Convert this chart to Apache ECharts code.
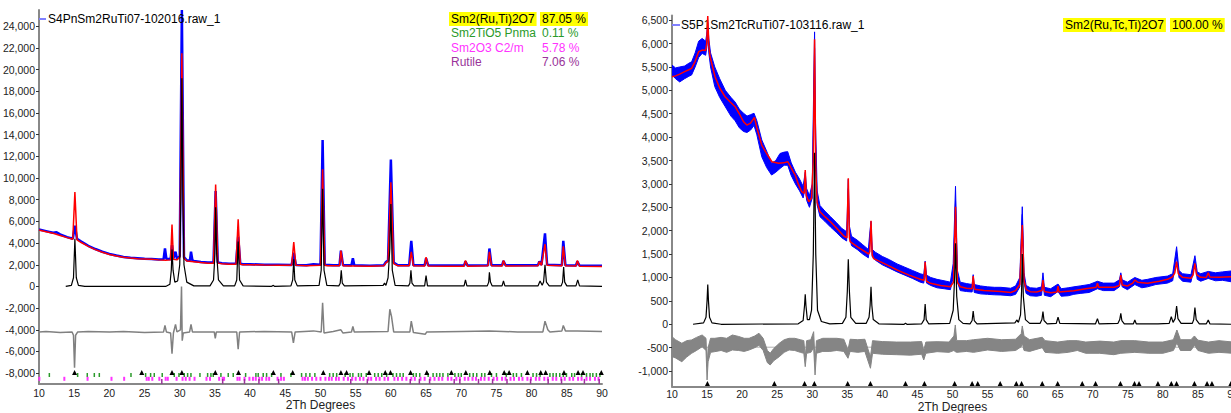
<!DOCTYPE html>
<html>
<head>
<meta charset="utf-8">
<script src="https://cdn.jsdelivr.net/npm/echarts@6/dist/echarts.min.js"></script>
<style>
html,body{margin:0;padding:0;background:#fff;}
#c{width:1231px;height:413px;}
</style>
</head>
<body>
<div id="c"></div>
<script>
// ---------------- DATA ----------------
const leftName = 'S4PnSm2RuTi07-102016.raw_1';
const rightName = 'S5P1Sm2TcRuTi07-103116.raw_1';
const leftPhases = ['Sm2(Ru,Ti)2O7', 'Sm2TiO5 Pnma', 'Sm2O3 C2/m', 'Rutile'];
const leftPercents = ['87.05 %', '0.11 %', '5.78 %', '7.06 %'];
const rightPhases = ['Sm2(Ru,Tc,Ti)2O7'];
const rightPercents = ['100.00 %'];
const leftYTicks = [-8000,-6000,-4000,-2000,0,2000,4000,6000,8000,10000,12000,14000,16000,18000,20000,22000,24000];
const rightYTicks = [-1000,-500,0,500,1000,1500,2000,2500,3000,3500,4000,4500,5000,5500,6000,6500];

// Left panel: observed (blue), calculated (red), phase pattern (black), difference (gray)
const leftObs = [[10,5250],[11,5100],[12,4950],[12.5,5000],[13,4800],[14,4550],[14.8,4400],[15.1,5600],[15.4,4400],[16,4150],[17,3750],[18,3450],[19,3200],[20,3000],[21,2850],[22,2720],[23,2650],[24,2600],[25,2550],[26,2520],[27,2480],[27.7,2500],[27.9,3500],[28.1,2550],[28.7,2500],[28.9,3800],[29.1,2600],[29.4,3200],[29.6,2550],[30.0,2800],[30.3,25500],[30.6,2700],[31.0,2400],[31.45,2400],[31.6,3200],[31.8,2400],[32,2350],[33,2250],[34,2200],[34.8,2200],[35.1,8800],[35.4,2200],[36,2150],[37,2100],[38,2100],[38.3,4600],[38.6,2100],[39,2050],[40,2050],[42,2000],[44,2000],[45.9,1980],[46.2,3100],[46.5,1980],[48,1950],[49,2050],[50,2000],[50.3,13500],[50.6,2000],[51.8,1950],[52.7,1950],[52.9,3300],[53.2,1950],[54.4,1950],[54.6,2600],[54.8,1950],[57,1900],[59,1950],[59.3,2250],[59.6,2400],[60,11700],[60.4,2200],[61,1950],[62.6,1950],[62.9,4200],[63.2,1950],[64.8,1950],[65,2600],[65.3,1950],[68,1920],[70.4,1920],[70.6,2300],[70.9,1920],[73.8,1950],[74,3500],[74.3,1950],[75.8,1950],[76,2350],[76.3,1950],[80.9,1950],[81.1,2300],[81.4,2000],[81.9,4900],[82.2,2000],[84.3,1950],[84.5,4200],[84.8,1950],[86.3,1930],[86.5,2300],[86.8,1930],[90,1900]];
const leftCalc = [[10,5200],[11,5050],[12,4900],[13,4700],[14,4500],[14.8,4350],[15.1,8700],[15.4,4300],[16,4050],[17,3700],[18,3400],[19,3150],[20,2950],[21,2800],[22,2700],[23,2620],[24,2560],[25,2530],[26,2500],[27,2450],[28,2420],[28.7,2450],[28.9,5700],[29.1,2500],[29.6,2450],[30.0,2700],[30.3,21500],[30.6,2600],[31,2350],[32,2280],[33,2200],[34,2150],[34.8,2150],[35.1,9400],[35.4,2150],[36,2100],[37,2050],[38,2050],[38.3,6200],[38.6,2050],[39,2000],[40,2000],[42,1970],[44,1950],[45.9,1950],[46.2,4100],[46.5,1950],[48,1900],[50,1950],[50.3,10800],[50.6,1950],[51,1900],[52.7,1900],[52.9,3300],[53.2,1900],[54,1880],[55,1880],[57,1870],[59,1900],[59.3,2200],[59.6,2300],[60.0,9600],[60.4,2100],[61,1900],[62.6,1900],[62.9,3200],[63.2,1900],[64.8,1880],[65.0,2700],[65.3,1880],[68,1870],[70.4,1870],[70.6,2400],[70.9,1870],[73.8,1900],[74.0,3200],[74.3,1900],[75.8,1880],[76.0,2400],[76.3,1880],[80.9,1900],[81.1,2300],[81.4,1950],[81.9,3900],[82.2,1950],[84.3,1900],[84.5,3700],[84.8,1900],[86.3,1880],[86.5,2400],[86.8,1870],[90,1850]];
const leftPhase = [[13.8,0],[14.6,100],[14.9,800],[15.1,4400],[15.3,800],[15.6,100],[16.5,0],[28.0,0],[28.6,200],[28.8,1500],[28.9,3400],[29.05,1500],[29.3,400],[29.7,500],[30.0,2000],[30.15,8000],[30.3,19200],[30.45,8000],[30.6,2000],[31.0,400],[32,50],[34.3,50],[34.8,600],[35.0,3000],[35.1,7300],[35.25,3000],[35.5,600],[36.2,50],[37.8,50],[38.1,600],[38.3,4150],[38.5,600],[39,50],[43,0],[43.3,100],[43.5,0],[45.8,50],[46.05,600],[46.2,2500],[46.35,600],[46.7,50],[49.8,100],[50.1,1500],[50.3,9000],[50.5,1500],[50.9,100],[52.6,50],[52.8,300],[52.95,1500],[53.1,300],[53.4,50],[58.9,100],[59.1,300],[59.3,100],[59.6,800],[59.85,3500],[60.0,7600],[60.2,1500],[60.6,100],[62.5,50],[62.7,300],[62.85,1500],[63.0,300],[63.3,50],[64.8,50],[65.0,1000],[65.2,50],[70.4,50],[70.6,600],[70.8,50],[73.7,50],[73.9,400],[74.0,1300],[74.15,400],[74.4,50],[75.8,50],[76.0,500],[76.2,50],[80.9,50],[81.2,500],[81.5,100],[81.7,400],[81.9,2000],[82.1,400],[82.5,50],[84.2,50],[84.4,400],[84.55,1800],[84.7,400],[85.0,50],[86.3,50],[86.55,600],[86.8,50],[90,0]];
const leftDiff = [[10,-4200],[11,-4150],[12,-4200],[13,-4250],[14.7,-4200],[14.9,-4500],[15.05,-7500],[15.2,-4500],[15.5,-4200],[17,-4150],[20,-4200],[22,-4150],[25,-4250],[27.7,-4200],[27.9,-3600],[28.1,-4200],[28.7,-4300],[28.9,-6200],[29.1,-4300],[29.4,-3500],[29.6,-4200],[30.1,-4000],[30.25,0],[30.35,-5000],[30.5,-4300],[31.4,-4200],[31.6,-3500],[31.8,-4200],[34.9,-4200],[35.05,-4800],[35.2,-4200],[38.1,-4200],[38.3,-5800],[38.5,-4200],[42,-4150],[45.9,-4200],[46.15,-5200],[46.4,-4200],[49,-4100],[50.1,-4200],[50.3,-1500],[50.5,-4300],[51.8,-4150],[52.9,-4000],[53.2,-4300],[54.4,-4200],[54.6,-3700],[54.8,-4200],[59.6,-4150],[59.85,-2100],[60.1,-2800],[60.4,-4200],[62.7,-4200],[62.9,-3200],[63.2,-4250],[64.9,-4400],[65.1,-4200],[70,-4150],[74,-4100],[78,-4200],[81.6,-4200],[81.9,-3200],[82.3,-4000],[82.6,-4200],[84.3,-4100],[84.5,-3600],[84.8,-4100],[86.5,-4100],[90,-4150]];

// Reflection positions (2Th)
const pyroTicks = [15.05,24.6,28.9,30.3,35.05,38.35,43.3,46.05,50.4,52.9,53.7,56.9,59.2,59.95,62.8,65.1,68.6,70.65,74.05,76.1,76.8,79.4,81.3,82.0,84.6,86.6,87.3,89.9];
const sm2tio5Ticks = [11.47,15.49,16.86,17.86,18.57,23.07,25.15,25.86,26.38,27.51,29.22,29.89,30.64,31.12,31.59,32.87,33.96,34.43,34.76,35.85,36.89,37.6,39.36,40.82,41.15,41.86,42.34,43.05,44.38,45.8,47.31,47.93,48.49,49.2,51.3,51.8,52.3,53.5,54.2,54.6,55.4,55.8,56.5,57.7,58.2,58.7,59.4,60.3,60.8,61.3,61.75,63.2,63.6,64.1,65.3,66.0,66.5,66.95,67.4,68.1,69.1,69.6,70.0,71.2,71.7,72.2,72.9,73.35,74.3,75.0,76.4,77.4,77.85,78.55,80.2,80.7,81.2,82.6,83.05,83.5,84.0,84.5,84.95,85.7,86.1,87.1,87.8,88.3,88.7,89.2,89.7];
const sm2o3Ticks = [10.05,13.6,16.9,20.3,22.1,25.3,25.6,26.1,27.1,28.0,28.3,29.55,30.4,30.85,31.4,32.1,33.8,34.3,35.6,36.1,36.3,38.2,38.5,39.2,39.9,40.4,40.8,41.3,41.7,42.3,42.7,43.9,44.4,44.8,47.45,47.8,48.2,48.8,49.4,50.0,50.7,51.2,51.6,52.2,52.6,53.3,53.9,54.5,55.0,55.6,56.1,56.8,57.2,57.9,58.4,59.1,59.6,60.5,61.0,61.6,62.2,62.9,63.4,64.2,64.8,65.6,66.2,66.8,67.3,68.1,68.6,69.3,69.8,70.5,71.0,71.6,72.1,72.8,73.3,73.9,74.6,75.1,75.8,76.3,77.0,77.5,78.2,78.7,79.4,79.9,80.6,81.1,81.8,82.3,83.0,83.5,84.2,84.7,85.4,85.9,86.6,87.1,87.8,88.3,89.0,89.5];
const rutileTicks = [27.45,36.1,39.2,41.25,44.05,54.3,56.65,62.75,64.05,65.5,69.0,69.8,72.45,74.45,76.5,79.85,82.35,84.25,87.5,89.6];

// Right panel: observed band [2Th, low, high], calculated, phase, difference band [2Th, low, high]
const rightObs = [[10.0,5330,5540],[10.5,5250,5480],[11.1,5180,5500],[11.8,5250,5520],[12.4,5300,5580],[12.8,5330,5610],[13.3,5500,5800],[13.8,5700,6050],[14.3,5790,6110],[14.8,5750,6050],[14.95,5900,6200],[15.1,6150,6450],[15.25,5800,6100],[15.5,5500,5800],[16.1,5080,5500],[16.8,4850,5250],[17.6,4650,5000],[18.4,4450,4850],[19.0,4350,4750],[19.6,4200,4600],[20.2,4120,4510],[20.7,4100,4450],[21.2,4150,4480],[21.7,4250,4510],[22.1,4050,4350],[22.8,3580,3940],[23.5,3350,3700],[24.2,3190,3440],[24.8,3250,3500],[25.4,3330,3650],[26.0,3400,3680],[26.5,3400,3690],[27.0,3180,3450],[27.6,3000,3250],[28.2,2850,3100],[28.7,2700,2950],[28.9,2850,3150],[29.0,2950,3250],[29.2,2650,2900],[29.6,2500,2750],[30.0,2700,3000],[30.2,4500,5000],[30.33,5900,6250],[30.45,4000,4400],[30.7,2550,2850],[31.1,2300,2540],[31.8,2200,2420],[32.6,2080,2300],[33.4,1970,2180],[34.2,1850,2050],[34.9,1780,1980],[35.0,2100,2400],[35.14,2900,3100],[35.3,1900,2100],[35.6,1680,1880],[36.4,1600,1800],[37.2,1500,1700],[38.0,1420,1600],[38.2,1700,1950],[38.38,2050,2200],[38.55,1450,1600],[39.0,1370,1540],[40.0,1270,1450],[41.0,1200,1380],[42.1,1120,1290],[43.2,1050,1220],[44.3,980,1150],[45.4,900,1080],[45.9,880,1060],[46.1,1150,1350],[46.3,880,1050],[46.9,830,1000],[47.8,780,960],[48.8,760,930],[49.7,740,900],[50.1,1000,1300],[50.43,2650,2950],[50.7,900,1150],[51.1,720,900],[52.0,700,870],[52.8,690,850],[52.95,880,1060],[53.1,680,850],[54.0,650,820],[55.0,640,800],[56.0,630,790],[56.9,626,790],[58.3,610,770],[59.0,640,820],[59.6,800,1000],[59.95,2350,2513],[60.2,900,1100],[60.5,660,830],[61.1,610,780],[62.0,600,770],[62.7,620,800],[62.9,950,1100],[63.1,620,790],[64.0,590,760],[65.05,700,860],[65.5,600,760],[66.5,610,780],[67.3,640,800],[68.2,660,820],[69.5,680,850],[70.67,760,920],[71.5,720,880],[73.05,720,880],[73.8,800,950],[74.0,950,1100],[74.2,800,950],[74.95,740,900],[76.0,850,1000],[77.0,780,940],[77.8,800,960],[79.0,850,1000],[80.67,880,1030],[81.4,930,1080],[81.96,1450,1658],[82.3,1000,1150],[82.8,920,1080],[84.0,900,1060],[84.57,1300,1466],[84.9,960,1120],[85.4,920,1080],[86.47,980,1130],[87.5,930,1100],[88.5,940,1120],[89.7,910,1139],[90.0,930,1120]];
const rightCalc = [[10.0,5290],[10.5,5310],[11.1,5348],[11.8,5400],[12.4,5440],[12.8,5470],[13.3,5620],[13.8,5825],[14.3,5861],[14.8,5850],[14.95,6000],[15.1,6588],[15.25,5950],[15.43,5718],[16.14,5290],[16.8,5050],[17.57,4863],[18.3,4750],[19.0,4650],[19.6,4500],[20.2,4329],[20.67,4258],[21.2,4300],[21.76,4423],[22.1,4200],[22.8,3831],[23.5,3650],[24.24,3474],[25.2,3440],[25.9,3450],[26.52,3474],[27.0,3340],[27.57,3190],[28.0,3000],[28.5,2833],[28.85,2800],[29.0,3297],[29.15,2750],[29.5,2620],[29.9,2700],[30.15,3500],[30.33,6090],[30.5,3300],[30.7,2600],[31.1,2406],[31.8,2300],[32.6,2192],[33.5,2050],[34.5,1887],[34.95,1850],[35.14,3120],[35.3,1850],[35.4,1765],[36.5,1650],[38.05,1502],[38.2,1550],[38.38,2214],[38.55,1480],[38.76,1404],[40.5,1280],[42.1,1160],[43.8,1050],[45.4,961],[45.95,940],[46.1,1338],[46.3,920],[46.86,876],[48.3,830],[49.7,803],[50.15,900],[50.43,2513],[50.7,900],[51.1,803],[52.0,770],[52.8,760],[52.95,1032],[53.15,750],[54.5,720],[56.9,700],[58.3,680],[59.0,720],[59.6,850],[59.95,2122],[60.2,950],[60.5,740],[61.1,697],[62.0,690],[62.75,720],[62.9,947],[63.1,700],[64.0,675],[64.9,690],[65.05,818],[65.2,690],[67.3,718],[69.0,760],[70.5,790],[70.67,876],[70.85,790],[73.05,790],[73.8,830],[74.0,1053],[74.2,840],[74.95,818],[75.7,880],[76.0,947],[76.4,900],[77.8,876],[79.5,920],[80.67,961],[81.2,1000],[81.4,1017],[81.7,1100],[81.96,1338],[82.2,1080],[82.8,1004],[84.0,983],[84.3,1050],[84.57,1303],[84.8,1060],[85.4,1004],[86.2,1000],[86.47,1103],[86.7,1010],[88.0,1005],[89.7,1017],[90.0,1017]];
const rightPhase = [[13.0,0],[14.5,30],[14.85,150],[15.0,500],[15.1,850],[15.2,500],[15.35,150],[15.7,30],[17,0],[28.0,10],[28.7,80],[28.9,400],[29.0,641],[29.1,400],[29.3,100],[29.6,100],[29.9,300],[30.15,1500],[30.33,3667],[30.5,1500],[30.75,300],[31.3,60],[32.5,10],[34.3,20],[34.8,150],[35.0,700],[35.14,1389],[35.3,700],[35.5,150],[36.2,20],[37.7,20],[38.1,150],[38.25,400],[38.38,803],[38.5,400],[38.7,100],[39.5,10],[43.1,0],[43.3,20],[43.5,0],[45.6,10],[45.95,100],[46.1,434],[46.25,100],[46.6,10],[49.6,20],[50.1,300],[50.3,1000],[50.43,1731],[50.6,600],[50.9,100],[51.5,20],[52.5,10],[52.8,80],[52.95,284],[53.1,80],[53.5,10],[58.9,30],[59.2,92],[59.4,40],[59.7,200],[59.85,700],[59.95,1500],[60.1,600],[60.4,100],[61,20],[62.5,20],[62.75,100],[62.9,269],[63.05,80],[63.5,10],[64.8,20],[65.05,150],[65.3,20],[70.4,10],[70.67,120],[70.9,10],[73.6,20],[73.85,100],[74.0,235],[74.15,80],[74.5,10],[75.8,10],[76.0,92],[76.2,10],[79.3,10],[80.9,20],[81.2,162],[81.45,40],[81.75,120],[81.96,391],[82.15,120],[82.6,20],[84.2,20],[84.4,100],[84.57,355],[84.75,100],[85.2,10],[86.2,10],[86.47,92],[86.7,10],[90,0]];
const rightDiff = [[10.0,-690,-265],[10.5,-720,-330],[11.4,-800,-406],[12.1,-700,-350],[12.8,-620,-335],[13.5,-560,-280],[14.3,-480,-229],[14.85,-560,-300],[15.0,-1190,-900],[15.15,-800,-500],[15.5,-600,-300],[16.1,-585,-300],[17.0,-560,-280],[17.8,-600,-300],[18.6,-549,-229],[19.5,-560,-260],[20.3,-580,-300],[21.0,-549,-300],[21.8,-500,-250],[22.4,-450,-192],[23.0,-560,-300],[23.6,-820,-560],[24.0,-870,-620],[24.5,-780,-520],[25.3,-692,-406],[26.0,-600,-330],[26.7,-549,-300],[27.5,-560,-300],[28.3,-600,-330],[28.8,-620,-350],[29.0,-906,-700],[29.2,-620,-350],[29.8,-600,-330],[30.2,-500,-158],[30.4,-1083,-800],[30.6,-620,-350],[31.5,-580,-300],[32.5,-580,-300],[33.5,-560,-300],[34.5,-580,-320],[35.1,-727,-550],[35.4,-580,-320],[36.5,-600,-330],[37.5,-580,-320],[38.3,-940,-700],[38.6,-620,-350],[40.0,-640,-370],[42.0,-650,-380],[44.0,-660,-380],[45.6,-640,-370],[45.9,-763,-560],[46.2,-620,-380],[47.8,-585,-372],[49.5,-600,-380],[50.2,-560,-250],[50.4,-585,-15],[50.6,-600,-350],[52.0,-580,-350],[53.0,-600,-330],[55.0,-549,-300],[57.0,-580,-330],[59.0,-560,-320],[59.8,-480,-200],[59.95,-400,-36],[60.2,-560,-250],[61.0,-580,-330],[62.8,-500,-278],[63.2,-600,-350],[65.0,-620,-380],[66.5,-600,-350],[67.8,-560,-350],[69.0,-620,-380],[71.0,-620,-360],[73.0,-650,-380],[74.0,-620,-350],[76.0,-600,-350],[78.0,-620,-380],[80.0,-620,-380],[81.5,-560,-330],[82.0,-400,-122],[82.5,-560,-330],[84.0,-560,-330],[84.5,-450,-250],[85.0,-560,-340],[86.5,-620,-380],[88.0,-600,-350],[90.0,-620,-380]];
const rightDiffZero = [[10,-490],[90,-490]];
const rightTicks = [15.05,24.6,28.9,30.3,35.05,38.3,43.3,46.0,50.3,52.8,53.6,56.8,59.1,59.85,62.8,65.0,68.5,70.4,73.95,75.95,76.6,79.3,81.2,81.95,84.5,86.3,87.0,89.7];

// ---------------- CHART ----------------
const FONT = '"Liberation Sans", Arial, Helvetica, sans-serif';
const chart = echarts.init(document.getElementById('c'), null, {renderer: 'svg'});
const fmt = v => Number(v).toLocaleString('en-US');

function line(name, data, color, width, idx, z) {
  return {name, type: 'line', data, xAxisIndex: idx, yAxisIndex: idx, showSymbol: false, symbol: 'none',
    animation: false, silent: true, z, lineStyle: {color, width}, itemStyle: {color}};
}
// filled band between low and high values, drawn through the axis scales (api.coord)
function band(name, rows, color, idx, z) {
  return {name, type: 'custom', data: rows, xAxisIndex: idx, yAxisIndex: idx, clip: true,
    animation: false, silent: true, z, itemStyle: {color},
    encode: {x: 0, y: [1, 2]},
    renderItem: function (params, api) {
      if (params.dataIndex !== 0) return null;
      const lower = rows.map(r => api.coord([r[0], r[1]]));
      const upper = rows.slice().reverse().map(r => api.coord([r[0], r[2]]));
      return {type: 'polygon', shape: {points: lower.concat(upper)},
        style: {fill: color, stroke: color, lineWidth: 1}};
    }};
}
function ticks(pos, y, symbol, size, color, idx, z) {
  return {type: 'scatter', data: pos.map(p => [p, y]), xAxisIndex: idx, yAxisIndex: idx, symbol, symbolSize: size,
    animation: false, silent: true, z, itemStyle: {color, opacity: 1}};
}

function xAx(idx, gap, margin) {
  return {type: 'value', gridIndex: idx, min: 10, max: 90, interval: 5,
    name: '2Th Degrees', nameLocation: 'middle', nameGap: gap, nameMoveOverlap: false,
    nameTextStyle: {fontFamily: FONT, fontSize: 12, color: '#222', verticalAlign: 'top'},
    axisLine: {show: true, onZero: false, lineStyle: {color: '#888', width: 2}},
    axisTick: {show: false}, splitLine: {show: false},
    axisLabel: {fontFamily: FONT, fontSize: 10.5, color: '#222', margin, showMinLabel: true, showMaxLabel: true}};
}
function yAx(idx, min, max, vals) {
  return {type: 'value', gridIndex: idx, min, max,
    axisLine: {show: true, onZero: false, lineStyle: {color: '#888', width: 2}},
    axisTick: {show: true, length: 3, customValues: vals, lineStyle: {color: '#333', width: 1}},
    splitLine: {show: false},
    axisLabel: {customValues: vals, formatter: fmt, fontFamily: FONT, fontSize: 10.5, color: '#222', margin: 4}};
}

const titles = [];
const lineTops = [12, 26, 41, 55];
const leftColors = ['#000', '#2a9a2a', '#ff33ff', '#993399'];
leftPhases.forEach((p, i) => {
  const hl = i === 0 ? '#ffff00' : 'transparent';
  titles.push({text: p, left: 449, top: lineTops[i], padding: [1, 2], backgroundColor: hl,
    textStyle: {fontFamily: FONT, fontSize: 12, fontWeight: 'normal', color: leftColors[i]}});
  titles.push({text: leftPercents[i], left: 540, top: lineTops[i], padding: [1, 2], backgroundColor: hl,
    textStyle: {fontFamily: FONT, fontSize: 12, fontWeight: 'normal', color: leftColors[i]}});
});
rightPhases.forEach((p, i) => {
  titles.push({text: p, left: 1063, top: 18, padding: [1, 2], backgroundColor: '#ffff00',
    textStyle: {fontFamily: FONT, fontSize: 12, fontWeight: 'normal', color: '#000'}});
  titles.push({text: rightPercents[i], left: 1170, top: 18, padding: [1, 2], backgroundColor: '#ffff00',
    textStyle: {fontFamily: FONT, fontSize: 12, fontWeight: 'normal', color: '#000'}});
});

const series = [
  // left panel
  line('leftDiff', leftDiff, '#808080', 1.5, 0, 2),
  line(leftName, leftObs, '#0000ff', 2.5, 0, 3),
  line('leftCalc', leftCalc, '#ff0000', 1.5, 0, 4),
  line('leftPhase', leftPhase, '#000000', 1.2, 0, 5),
  ticks(sm2tio5Ticks, -8170, 'rect', [1.5, 4], '#2a9a2a', 0, 6),
  ticks(sm2o3Ticks, -8520, 'rect', [2, 4], '#ff33ff', 0, 6),
  ticks(rutileTicks, -8760, 'rect', [1.5, 5], '#993399', 0, 6),
  ticks(pyroTicks, -7950, 'triangle', 5, '#000000', 0, 7),
  // right panel
  line('rightDiffZero', rightDiffZero, '#b0b0b0', 1, 1, 1),
  band('rightDiff', rightDiff, '#858585', 1, 2),
  band(rightName, rightObs, '#0000ff', 1, 3),
  line('rightCalc', rightCalc, '#ff0000', 1.5, 1, 4),
  line('rightPhase', rightPhase, '#000000', 1.2, 1, 5),
  ticks(rightTicks, -1265, 'triangle', 5, '#000000', 1, 7)
];

chart.setOption({
  animation: false,
  backgroundColor: '#fff',
  textStyle: {fontFamily: FONT},
  title: titles,
  legend: [
    {data: [{name: leftName, itemStyle: {color: '#8080ff'}}], left: 39, top: 13, icon: 'rect', itemWidth: 7, itemHeight: 2,
      selectedMode: false, padding: 0, textStyle: {fontFamily: FONT, fontSize: 12, color: '#000', padding: [0, 0, 0, -3]}},
    {data: [{name: rightName, itemStyle: {color: '#8080ff'}}], left: 672, top: 19, icon: 'rect', itemWidth: 8, itemHeight: 2,
      selectedMode: false, padding: 0, textStyle: {fontFamily: FONT, fontSize: 12, color: '#000', padding: [0, 0, 0, -4]}}
  ],
  grid: [
    {left: 39, top: 10, width: 563, height: 374, outerBoundsMode: 'none', containLabel: false},
    {left: 672, top: 15.5, width: 561, height: 371, outerBoundsMode: 'none', containLabel: false}
  ],
  xAxis: [xAx(0, 15, 3), xAx(1, 14.5, 2)],
  yAxis: [yAx(0, -9000, 25500, leftYTicks), yAx(1, -1330, 6600, rightYTicks)],
  series
});
</script>
</body>
</html>
